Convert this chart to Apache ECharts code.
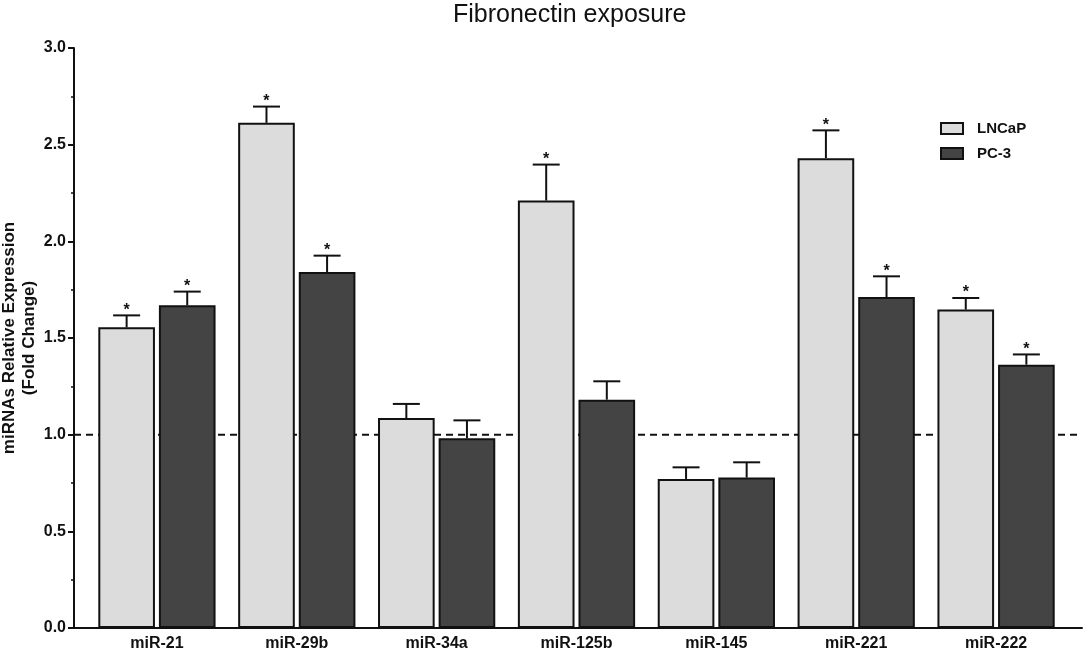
<!DOCTYPE html>
<html lang="en">
<head>
<meta charset="utf-8">
<title>Fibronectin exposure</title>
<script src="https://cdn.jsdelivr.net/npm/echarts@6/dist/echarts.min.js"></script>
<style>
  html, body { margin: 0; padding: 0; background: #fff; }
  #main { width: 1084px; height: 651px; }
</style>
</head>
<body>
<div id="main"></div>
<script>
// data
const categories = ['miR-21', 'miR-29b', 'miR-34a', 'miR-125b', 'miR-145', 'miR-221', 'miR-222'];
const lncapMean = [1.555, 2.613, 1.086, 2.211, 0.771, 2.430, 1.647];
const lncapErr  = [0.062, 0.084, 0.073, 0.186, 0.060, 0.144, 0.060];
const lncapSig  = [1, 1, 0, 1, 0, 1, 1];
const pc3Mean   = [1.669, 1.841, 0.981, 1.181, 0.778, 1.712, 1.362];
const pc3Err    = [0.071, 0.085, 0.093, 0.095, 0.079, 0.107, 0.053];
const pc3Sig    = [1, 1, 0, 0, 0, 1, 1];
const yTicks = { min: 0, max: 3, interval: 0.5 };
const baseline = 1.0;

const BAR_W = 0.405;  // share of category band
const BAR_GAP = 0.07; // share of bar width
const FONT = 'Liberation Sans, Arial, Helvetica, sans-serif';

function errData(mean, err, sig) {
  return mean.map((v, i) => [i, v, err[i], sig[i]]);
}

function errRenderer(side) {
  return function (params, api) {
    const i = api.value(0);
    const v = api.value(1);
    const e = api.value(2);
    const s = api.value(3);
    const base = api.coord([i, v]);
    const top = api.coord([i, v + e]);
    const band = api.size([1, 0])[0];
    const bw = band * BAR_W;
    const x = base[0] + side * (bw + bw * BAR_GAP) / 2;
    const half = 13.5;
    const style = { stroke: '#111', lineWidth: 2 };
    const kids = [
      { type: 'line', shape: { x1: x, y1: base[1], x2: x, y2: top[1] }, style: style },
      { type: 'line', shape: { x1: x - half, y1: top[1], x2: x + half, y2: top[1] }, style: style }
    ];
    if (s) {
      kids.push({
        type: 'text',
        style: {
          text: '*', x: x, y: top[1] - 5,
          align: 'center', verticalAlign: 'middle',
          font: 'bold 16px ' + FONT, fill: '#111'
        }
      });
    }
    return { type: 'group', children: kids };
  };
}

const chart = echarts.init(document.getElementById('main'));

const option = {
  backgroundColor: '#fff',
  animation: false,
  title: {
    text: 'Fibronectin exposure',
    left: 448,
    top: -2,
    textStyle: { fontFamily: FONT, fontSize: 25, fontWeight: 'normal', color: '#111' }
  },
  legend: {
    data: ['LNCaP', 'PC-3'],
    orient: 'vertical',
    left: 940,
    top: 121,
    padding: 0,
    icon: 'rect',
    itemWidth: 22,
    itemHeight: 11,
    itemGap: 10,
    textStyle: { fontFamily: FONT, fontSize: 15, fontWeight: 'bold', color: '#111', padding: [0, 0, 0, 9] }
  },
  grid: [
    // axis frame
    { left: 74, right: 2, top: 48, bottom: 23, outerBoundsMode: 'none', containLabel: false },
    // bars
    { left: 87, right: 18, top: 48, bottom: 23, outerBoundsMode: 'none', containLabel: false }
  ],
  xAxis: [
    {
      gridIndex: 0, type: 'value', min: 0, max: 1,
      axisLine: { show: true, lineStyle: { color: '#111', width: 2 } },
      axisTick: { show: false }, axisLabel: { show: false }, splitLine: { show: false }
    },
    {
      gridIndex: 1, type: 'category', data: categories,
      axisLine: { show: false }, axisTick: { show: false },
      axisLabel: { margin: 8, fontFamily: FONT, fontSize: 16, fontWeight: 'bold', color: '#111' }
    }
  ],
  yAxis: [
    {
      gridIndex: 0, type: 'value', min: yTicks.min, max: yTicks.max, interval: yTicks.interval,
      name: 'miRNAs Relative Expression\n(Fold Change)',
      nameLocation: 'middle', nameGap: 35, nameMoveOverlap: false,
      nameTextStyle: { fontFamily: FONT, fontSize: 17, fontWeight: 'bold', color: '#111', lineHeight: 20 },
      axisLine: { show: true, lineStyle: { color: '#111', width: 2 } },
      axisTick: { show: true, length: 6, lineStyle: { color: '#111', width: 2 } },
      minorTick: { show: true, splitNumber: 2, length: 3, lineStyle: { color: '#111', width: 1.5 } },
      axisLabel: {
        margin: 8, fontFamily: FONT, fontSize: 16, fontWeight: 'bold', color: '#111',
        formatter: v => v.toFixed(1)
      },
      splitLine: { show: false }
    },
    {
      gridIndex: 1, type: 'value', min: yTicks.min, max: yTicks.max, show: false
    }
  ],
  series: [
    {
      name: 'ref', type: 'line', xAxisIndex: 0, yAxisIndex: 0, z: 1,
      data: [[0, baseline], [1, baseline]],
      symbol: 'none', silent: true,
      lineStyle: { color: '#111', width: 2, type: [7, 5] }
    },
    {
      name: 'LNCaP', type: 'bar', xAxisIndex: 1, yAxisIndex: 1, z: 3,
      data: lncapMean,
      barWidth: (BAR_W * 100) + '%', barGap: (BAR_GAP * 100) + '%',
      itemStyle: { color: '#dcdcdc', borderColor: '#111', borderWidth: 2 }
    },
    {
      name: 'PC-3', type: 'bar', xAxisIndex: 1, yAxisIndex: 1, z: 3,
      data: pc3Mean,
      barWidth: (BAR_W * 100) + '%', barGap: (BAR_GAP * 100) + '%',
      itemStyle: { color: '#444444', borderColor: '#111', borderWidth: 2 }
    },
    {
      name: 'LNCaP err', type: 'custom', xAxisIndex: 1, yAxisIndex: 1, z: 4,
      data: errData(lncapMean, lncapErr, lncapSig),
      encode: { x: 0, y: 1 },
      renderItem: errRenderer(-1), silent: true
    },
    {
      name: 'PC-3 err', type: 'custom', xAxisIndex: 1, yAxisIndex: 1, z: 4,
      data: errData(pc3Mean, pc3Err, pc3Sig),
      encode: { x: 0, y: 1 },
      renderItem: errRenderer(1), silent: true
    }
  ]
};

chart.setOption(option);
</script>
</body>
</html>
